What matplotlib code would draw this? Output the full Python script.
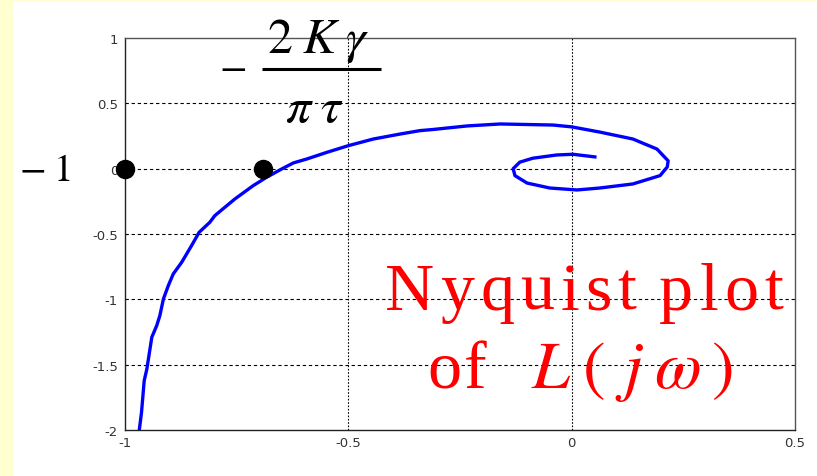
import matplotlib
matplotlib.use("Agg")
import matplotlib.pyplot as plt
from matplotlib import transforms
from matplotlib.lines import Line2D
from matplotlib.patches import Rectangle

# Nyquist locus of L(jw), from low to high frequency
re_vals = [-0.968, -0.963, -0.957, -0.951, -0.940, -0.929, -0.922, -0.914, -0.903,
           -0.892, -0.873, -0.851, -0.834, -0.810, -0.799, -0.772, -0.754, -0.713,
           -0.683, -0.649, -0.623, -0.593, -0.548, -0.500, -0.444, -0.384, -0.340,
           -0.310, -0.234, -0.160, -0.042, 0.000, 0.063, 0.137, 0.191, 0.216, 0.214,
           0.198, 0.137, 0.063, 0.012, -0.049, -0.100, -0.127, -0.131, -0.116, -0.087,
           -0.033, 0.003, 0.052]
im_vals = [-2.000, -1.864, -1.622, -1.532, -1.290, -1.201, -1.125, -0.997, -0.895,
           -0.806, -0.716, -0.589, -0.487, -0.410, -0.360, -0.283, -0.232, -0.130,
           -0.066, -0.002, 0.044, 0.074, 0.125, 0.176, 0.227, 0.265, 0.291,
           0.300, 0.327, 0.342, 0.334, 0.320, 0.280, 0.227, 0.150, 0.060, 0.013,
           -0.053, -0.117, -0.148, -0.163, -0.148, -0.110, -0.053, 0.000, 0.050, 0.080,
           0.105, 0.110, 0.090]

# critical point and describing-function point
crit_re = [-1.0, -0.69]
crit_im = [0.0, 0.0]

x_ticks = [-1, -0.5, 0, 0.5]
x_labels = ["-1", "-0.5", "0", "0.5"]
y_ticks = [1, 0.5, 0, -0.5, -1, -1.5, -2]
y_labels = ["1", "0.5", "0", "-0.5", "-1", "-1.5", "-2"]

plt.rcParams["mathtext.fontset"] = "stix"


def spaced_text(ax, x, y, tokens, gap, **kw):
    """Draw tokens one after another with extra tracking between them."""
    fig = ax.figure
    renderer = fig.canvas.get_renderer()
    size_px = kw.get("fontsize", 12) * fig.dpi / 72.0
    dx = 0.0
    for tok in tokens:
        if tok.isspace():
            dx += 0.25 * size_px
            continue
        tr = transforms.offset_copy(ax.transData, fig=fig, x=dx, y=0, units="dots")
        t = ax.text(x, y, tok, transform=tr, ha="left", va="baseline",
                    clip_on=False, **kw)
        dx += t.get_window_extent(renderer).width + gap


fig = plt.figure(figsize=(8.17, 4.77), dpi=100, facecolor="#FFFFD0")
fig.patches.append(Rectangle((13 / 817, 0), 1 - 13 / 817, 474 / 477,
                             transform=fig.transFigure, facecolor="white",
                             edgecolor="none", zorder=-10))
ax = fig.add_axes([125 / 817, 46 / 477, 670 / 817, 392 / 477])
ax.set_facecolor("white")

ax.plot(re_vals, im_vals, color="#0000FF", linewidth=2.4, zorder=3)
ax.plot(crit_re, crit_im, "o", color="black", markersize=13, clip_on=False, zorder=5)

ax.set_xlim(-1, 0.5)
ax.set_ylim(-2, 1)
ax.set_xticks(x_ticks)
ax.set_xticklabels(x_labels)
ax.set_yticks(y_ticks)
ax.set_yticklabels(y_labels)
ax.tick_params(length=0, labelsize=9.5, labelcolor="#333333")
ax.tick_params(axis="y", pad=5)
ax.tick_params(axis="x", pad=4)
for lab in ax.get_xticklabels() + ax.get_yticklabels():
    lab.set_fontfamily("DejaVu Sans")

for yv in y_ticks[1:-1]:
    ax.axhline(yv, color="black", linewidth=0.8, linestyle=(0, (3, 2.5)), zorder=1)
for xv in x_ticks[1:-1]:
    ax.axvline(xv, color="black", linewidth=0.8, linestyle=(0, (1.5, 1.5)), zorder=1)

for side in ["left", "bottom"]:
    ax.spines[side].set_color("#222222")
for side in ["top", "right"]:
    ax.spines[side].set_color("#555555")
for sp in ax.spines.values():
    sp.set_linewidth(1.0)

ax.text(-1.18, 0.0, r"$-\;1$", fontsize=28, ha="center", va="center", clip_on=False)

# -2K*gamma/(pi*tau), set as numerator, rule and denominator
ax.text(-0.760, 0.785, r"$-$", fontsize=29, ha="center", va="center", clip_on=False)
ax.text(-0.568, 0.893, r"$2\;K\;\gamma$", fontsize=36, ha="center", va="baseline",
        clip_on=False)
ax.text(-0.577, 0.365, r"$\pi\;\tau$", fontsize=36, ha="center", va="baseline",
        clip_on=False)
ax.add_line(Line2D([-0.693, -0.427], [0.763, 0.763], color="black", linewidth=2.2,
                   solid_capstyle="butt", clip_on=False))

spaced_text(ax, -0.418, -1.073, list("Nyquist plot"), 6,
            fontsize=49, color="#FF0000", fontfamily="Liberation Serif")
spaced_text(ax, -0.324, -1.670, ["o", "f"], 3,
            fontsize=49, color="#FF0000", fontfamily="Liberation Serif")
spaced_text(ax, -0.09, -1.670, ["$L$", "$($", "$j$", r"$\omega$", "$)$"], 10,
            fontsize=49, color="#FF0000")

fig.savefig("out.png", dpi=100, facecolor=fig.get_facecolor())
